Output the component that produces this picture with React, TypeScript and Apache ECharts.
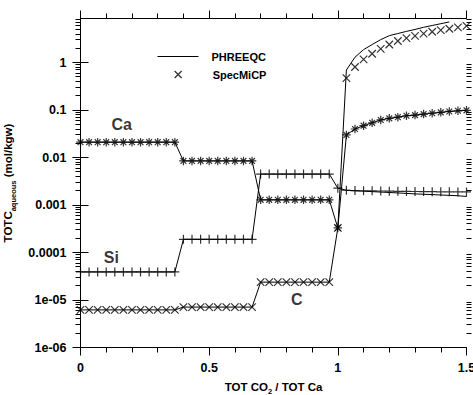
import React, { useEffect, useRef } from "react";
import * as echarts from "echarts";

// ---- data ----
const xSteps = [
  0, 0.0333, 0.0667, 0.1, 0.1333, 0.1667, 0.2, 0.2333, 0.2667, 0.3, 0.3333, 0.3667,
  0.4, 0.4333, 0.4667, 0.5, 0.5333, 0.5667, 0.6, 0.6333, 0.6667,
  0.7, 0.7333, 0.7667, 0.8, 0.8333, 0.8667, 0.9, 0.9333, 0.9667,
  1.0,
  1.0333, 1.0667, 1.1, 1.1333, 1.1667, 1.2, 1.2333, 1.2667, 1.3, 1.3333, 1.3667, 1.4, 1.4333, 1.4667, 1.5,
];

const caSpecMiCP = [
  0.0211, 0.0211, 0.0211, 0.0211, 0.0211, 0.0211, 0.0211, 0.0211, 0.0211, 0.0211, 0.0211, 0.0211,
  0.0085, 0.0085, 0.0085, 0.0085, 0.0085, 0.0085, 0.0085, 0.0085, 0.0085,
  0.00129, 0.00129, 0.00129, 0.00129, 0.00129, 0.00129, 0.00129, 0.00129, 0.00129,
  0.00033,
  0.03, 0.04, 0.047, 0.054, 0.062, 0.067, 0.071, 0.076, 0.0785, 0.0823, 0.086, 0.0897, 0.0937, 0.0967, 0.099,
];

const siSpecMiCP = [
  3.9e-5, 3.9e-5, 3.9e-5, 3.9e-5, 3.9e-5, 3.9e-5, 3.9e-5, 3.9e-5, 3.9e-5, 3.9e-5, 3.9e-5, 3.9e-5,
  1.9e-4, 1.9e-4, 1.9e-4, 1.9e-4, 1.9e-4, 1.9e-4, 1.9e-4, 1.9e-4, 1.9e-4,
  0.0045, 0.0045, 0.0045, 0.0045, 0.0045, 0.0045, 0.0045, 0.0045, 0.0045,
  0.00227,
  0.00205, 0.00202, 0.002, 0.00199, 0.00198, 0.00196, 0.00195, 0.00194, 0.00193, 0.00192, 0.00191, 0.0019, 0.0019, 0.00189, 0.00189,
];

const cSpecMiCP = [
  6.2e-6, 6.2e-6, 6.2e-6, 6.2e-6, 6.2e-6, 6.2e-6, 6.2e-6, 6.2e-6, 6.2e-6, 6.2e-6, 6.2e-6, 6.2e-6,
  7.1e-6, 7.1e-6, 7.1e-6, 7.1e-6, 7.1e-6, 7.1e-6, 7.1e-6, 7.1e-6, 7.1e-6,
  2.38e-5, 2.38e-5, 2.38e-5, 2.38e-5, 2.38e-5, 2.38e-5, 2.38e-5, 2.38e-5, 2.38e-5,
  3.3e-4,
  0.47, 0.81, 1.17, 1.54, 1.95, 2.41, 2.86, 3.28, 3.67, 4.09, 4.48, 4.85, 5.17, 5.51, 5.95,
];

const caPhreeqc = [
  0.0211, 0.0211, 0.0211, 0.0211, 0.0211, 0.0211, 0.0211, 0.0211, 0.0211, 0.0211, 0.0211, 0.0211,
  0.0085, 0.0085, 0.0085, 0.0085, 0.0085, 0.0085, 0.0085, 0.0085, 0.0085,
  0.00129, 0.00129, 0.00129, 0.00129, 0.00129, 0.00129, 0.00129, 0.00129, 0.00129,
  0.00033,
  0.03, 0.04, 0.047, 0.054, 0.062, 0.067, 0.071, 0.076, 0.0785, 0.0823, 0.086, 0.0897, 0.0937, 0.0967, 0.099,
];

const siPhreeqc = [
  3.9e-5, 3.9e-5, 3.9e-5, 3.9e-5, 3.9e-5, 3.9e-5, 3.9e-5, 3.9e-5, 3.9e-5, 3.9e-5, 3.9e-5, 3.9e-5,
  1.9e-4, 1.9e-4, 1.9e-4, 1.9e-4, 1.9e-4, 1.9e-4, 1.9e-4, 1.9e-4, 1.9e-4,
  0.0045, 0.0045, 0.0045, 0.0045, 0.0045, 0.0045, 0.0045, 0.0045, 0.0045,
  0.00227,
  0.00205, 0.002, 0.00196, 0.00192, 0.00188, 0.00184, 0.0018, 0.00176, 0.00172, 0.00169, 0.00166, 0.00163, 0.0016, 0.00157, 0.00152,
];

const cPhreeqc = [
  6.2e-6, 6.2e-6, 6.2e-6, 6.2e-6, 6.2e-6, 6.2e-6, 6.2e-6, 6.2e-6, 6.2e-6, 6.2e-6, 6.2e-6, 6.2e-6,
  7.1e-6, 7.1e-6, 7.1e-6, 7.1e-6, 7.1e-6, 7.1e-6, 7.1e-6, 7.1e-6, 7.1e-6,
  2.38e-5, 2.38e-5, 2.38e-5, 2.38e-5, 2.38e-5, 2.38e-5, 2.38e-5, 2.38e-5, 2.38e-5,
  3.3e-4,
  0.7, 1.3, 1.88, 2.4, 3.05, 3.7, 4.1, 4.55, 5.0, 5.55, 6.05, 6.6, 7.2,
];

const yTickLabels = ["1e-06", "1e-05", "0.0001", "0.001", "0.01", "0.1", "1"];
const decadeStarts = [1e-6, 1e-5, 1e-4, 1e-3, 1e-2, 1e-1, 1];
const minorMultipliers = [2, 3, 4, 5, 6, 7, 8, 9];

const annotations = [
  { name: "Ca", x: 0.16, y: 0.049 },
  { name: "Si", x: 0.12, y: 7.9e-5 },
  { name: "C", x: 0.84, y: 1.03e-5 },
];

const xMin = 0;
const xMax = 1.5;
const yMin = 1e-6;
const yMax = 8.5;

const FONT = "'Liberation Sans', Arial, sans-serif";

const crossPath = "path://M0,0L10,10M10,0L0,10";
const plusPath = "path://M5,0L5,10M0,5L10,5";
const starPath = "path://M5,0L5,10M0,5L10,5M1.6,1.6L8.4,8.4M8.4,1.6L1.6,8.4";

const zip = (xs: number[], ys: number[]) => ys.map((y, i) => [xs[i], y]);

export default function App() {
  const ref = useRef<HTMLDivElement>(null);

  useEffect(() => {
    if (!ref.current) return;
    const chart = echarts.init(ref.current, undefined, { renderer: "svg" });

    const minorTickValues = decadeStarts
      .flatMap((d) => minorMultipliers.map((m) => m * d))
      .filter((v) => v < yMax);

    const lineStyle = { color: "#000", width: 1 };
    const markerStyle = { color: "rgba(0,0,0,0)", borderColor: "#000", borderWidth: 1.2 };
    const tickLabelStyle = { color: "#000", fontFamily: FONT, fontWeight: "bold" as const, fontSize: 12.5 };
    const nameRich = {
      a: { fontFamily: FONT, fontWeight: "bold", fontSize: 11.5, color: "#000", verticalAlign: "top", lineHeight: 15 },
      s: { fontFamily: FONT, fontWeight: "bold", fontSize: 7.5, color: "#000", verticalAlign: "bottom", lineHeight: 10 },
    };

    const option: any = {
      animation: false,
      backgroundColor: "#fff",
      grid: { left: 80.5, right: 6.5, top: 18.5, bottom: 47.5, containLabel: false, outerBoundsMode: "none" },
      legend: [
        {
          data: ["PHREEQC"],
          left: 152,
          top: 46,
          itemWidth: 41,
          itemHeight: 10,
          selectedMode: false,
          itemStyle: { opacity: 0 },
          lineStyle: { color: "#000", width: 1, opacity: 1 },
          textStyle: { color: "#000", fontFamily: FONT, fontWeight: "bold", fontSize: 11, padding: [0, 0, 0, 8] },
        },
        {
          data: ["SpecMiCP"],
          left: 169,
          top: 64,
          itemWidth: 7,
          itemHeight: 7,
          selectedMode: false,
          itemStyle: { color: "rgba(0,0,0,0)", borderColor: "#000", borderWidth: 1.3 },
          textStyle: { color: "#000", fontFamily: FONT, fontWeight: "bold", fontSize: 11, padding: [0, 0, 0, 26] },
        },
      ],
      xAxis: [
        {
          type: "value",
          position: "bottom",
          min: xMin,
          max: xMax,
          interval: 0.5,
          name: "{a|TOT CO}{s|2}{a| / TOT Ca}",
          nameLocation: "middle",
          nameGap: 33,
          nameTextStyle: { rich: nameRich },
          axisLine: { show: true, lineStyle: { color: "#000", width: 1 } },
          axisTick: { show: true, length: 8, lineStyle: { color: "#000" } },
          minorTick: { show: true, splitNumber: 5, length: 5, lineStyle: { color: "#000" } },
          axisLabel: { ...tickLabelStyle, margin: 14 },
          splitLine: { show: false },
        },
        {
          type: "value",
          position: "top",
          min: xMin,
          max: xMax,
          interval: 0.5,
          axisLine: { show: true, lineStyle: { color: "#000", width: 1 } },
          axisTick: { show: true, length: 8, lineStyle: { color: "#000" } },
          minorTick: { show: true, splitNumber: 5, length: 5, lineStyle: { color: "#000" } },
          axisLabel: { show: false },
          splitLine: { show: false },
        },
      ],
      yAxis: [
        {
          type: "log",
          logBase: 10,
          position: "left",
          min: yMin,
          max: yMax,
          name: "{a|TOTC}{s|aqueous}{a| (mol/kgw)}",
          nameLocation: "middle",
          nameRotate: 90,
          nameGap: 49,
          nameTextStyle: { rich: nameRich },
          axisLine: { show: true, lineStyle: { color: "#000", width: 1 } },
          axisTick: { show: true, length: 8, lineStyle: { color: "#000" } },
          axisLabel: {
            ...tickLabelStyle,
            margin: 14,
            showMaxLabel: false,
            formatter: (v: number) => yTickLabels[Math.round(Math.log10(v)) + 6] ?? "",
          },
          splitLine: { show: false },
        },
        {
          type: "log",
          logBase: 10,
          position: "right",
          min: yMin,
          max: yMax,
          axisLine: { show: true, lineStyle: { color: "#000", width: 1 } },
          axisTick: { show: true, length: 8, lineStyle: { color: "#000" } },
          axisLabel: { show: false },
          splitLine: { show: false },
        },
      ],
      series: [
        { name: "PHREEQC", type: "line", data: zip(xSteps, cPhreeqc), symbol: "none", lineStyle, itemStyle: { color: "#000" }, z: 2 },
        { name: "PHREEQC", type: "line", data: zip(xSteps, caPhreeqc), symbol: "none", lineStyle, itemStyle: { color: "#000" }, z: 2 },
        { name: "PHREEQC", type: "line", data: zip(xSteps, siPhreeqc), symbol: "none", lineStyle, itemStyle: { color: "#000" }, z: 2 },
        { name: "SpecMiCP", type: "scatter", data: zip(xSteps, cSpecMiCP), symbol: crossPath, symbolSize: 7.5, itemStyle: markerStyle, z: 3 },
        { name: "SpecMiCP", type: "scatter", data: zip(xSteps, caSpecMiCP), symbol: starPath, symbolSize: 8.5, itemStyle: markerStyle, z: 3 },
        { name: "SpecMiCP", type: "scatter", data: zip(xSteps, siSpecMiCP), symbol: plusPath, symbolSize: 9, itemStyle: markerStyle, z: 3 },
        {
          name: "labels",
          type: "scatter",
          data: annotations.map((a) => ({ name: a.name, value: [a.x, a.y] })),
          symbolSize: 1,
          itemStyle: { color: "rgba(0,0,0,0)" },
          label: {
            show: true,
            position: "inside",
            formatter: "{b}",
            color: "#000",
            fontFamily: FONT,
            fontWeight: "bold",
            fontSize: 16,
          },
          silent: true,
          z: 4,
        },
        {
          name: "minorTicks",
          type: "custom",
          silent: true,
          clip: false,
          data: minorTickValues.map((v) => [xMin, v]),
          encode: { x: 0, y: 1 },
          renderItem: (params: any, api: any) => {
            const cs = params.coordSys;
            const p = api.coord([xMin, api.value(1)]);
            const y = Math.round(p[1] - 0.5) + 0.5;
            const style = { stroke: "#000", lineWidth: 1 };
            return {
              type: "group",
              children: [
                { type: "line", shape: { x1: cs.x - 5, y1: y, x2: cs.x, y2: y }, style },
                { type: "line", shape: { x1: cs.x + cs.width, y1: y, x2: cs.x + cs.width + 5, y2: y }, style },
              ],
            };
          },
          z: 5,
        },
      ],
    };

    chart.setOption(option);
    return () => chart.dispose();
  }, []);

  return (
    <div
      ref={ref}
      style={{ position: "absolute", left: 0, top: 0, width: 473, height: 395, background: "#fff" }}
    />
  );
}
